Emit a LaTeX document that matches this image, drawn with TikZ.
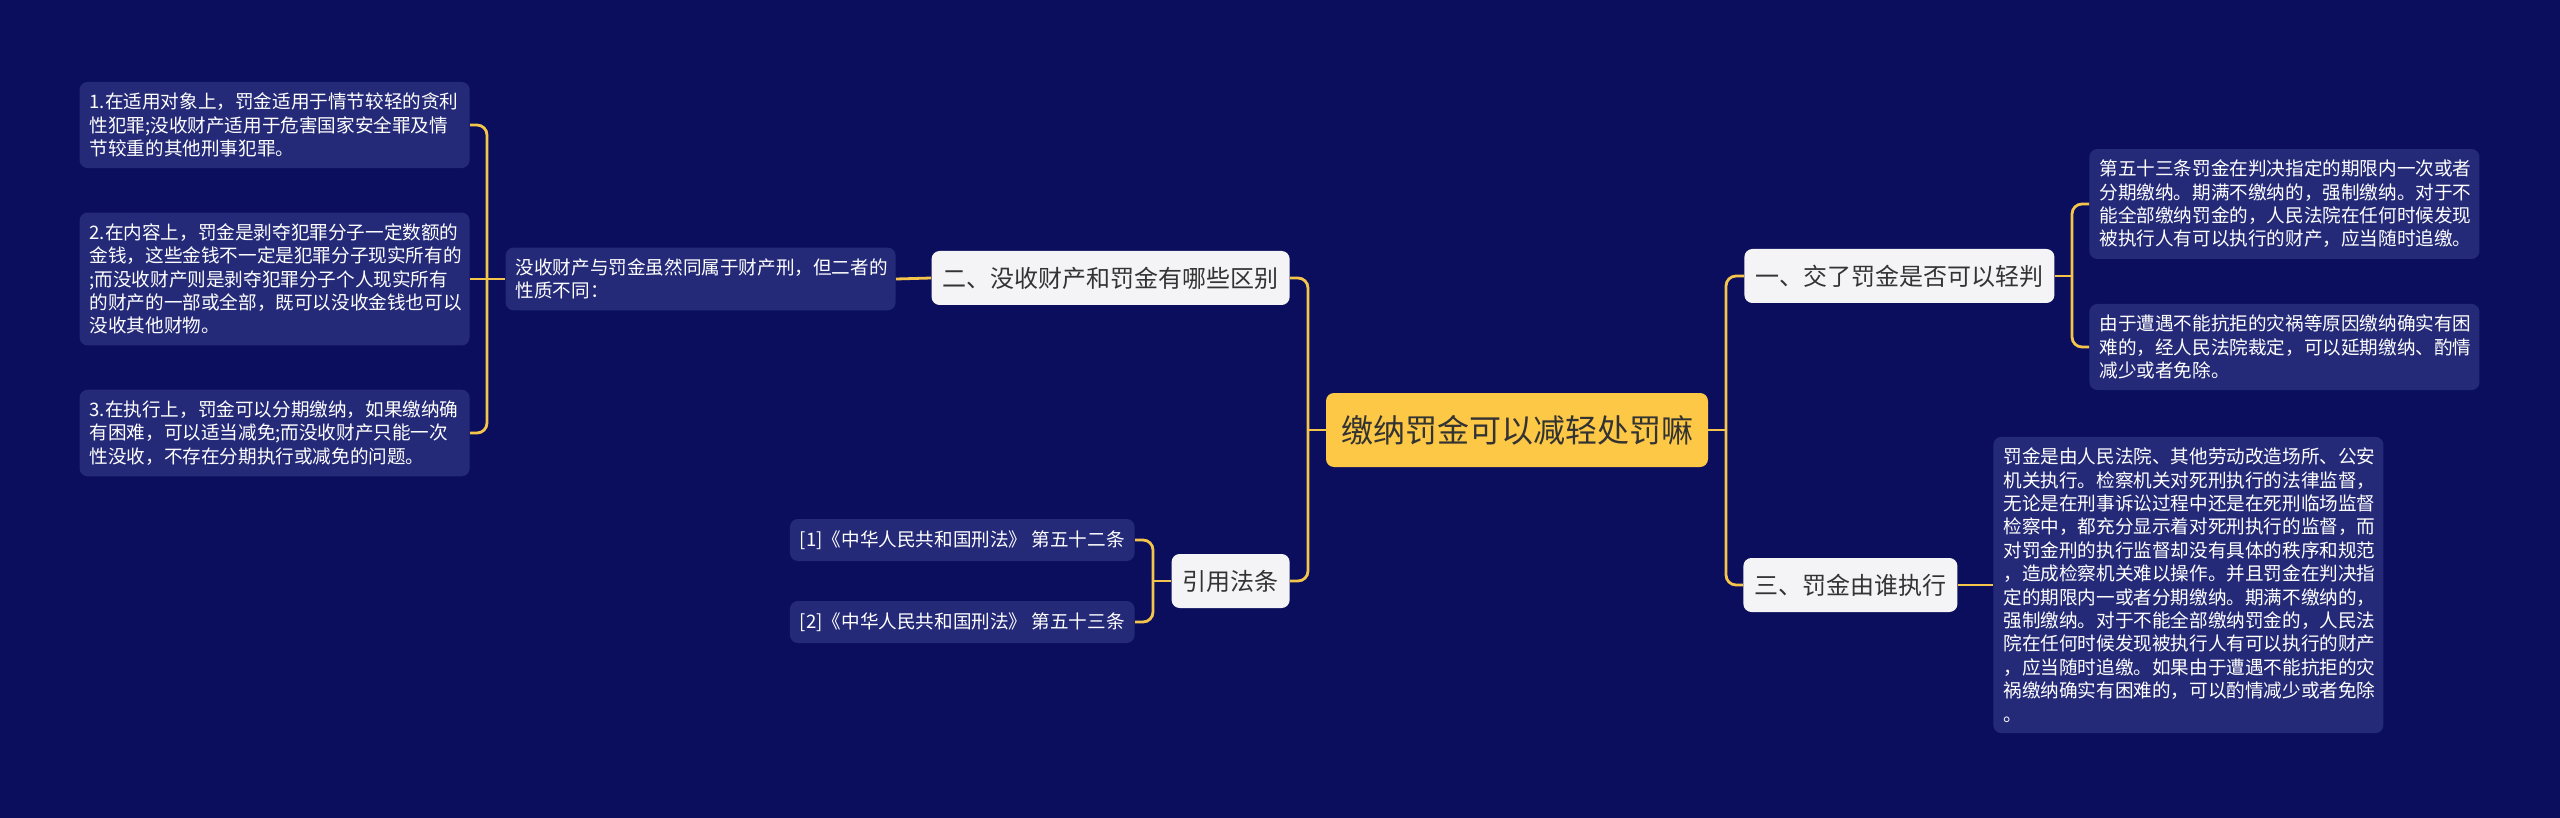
\documentclass[tikz,border=0pt]{standalone}
\usepackage{fontspec}
\setmainfont{Noto Sans CJK SC}
\usepackage{tikz}
\usetikzlibrary{positioning}

\definecolor{navybg}{HTML}{0B0E5C}
\definecolor{leaffill}{HTML}{252A78}
\definecolor{rootfill}{HTML}{FDC845}
\definecolor{linkcol}{HTML}{F4C54A}
\definecolor{branchfill}{HTML}{F4F4F6}
\definecolor{darktext}{HTML}{333333}

\begin{document}
\begin{tikzpicture}[
    x=0.5pt, y=-0.5pt,
    root/.style={rectangle, rounded corners=4pt, fill=rootfill, text=darktext, minimum width=191pt, minimum height=37pt, font=\fontsize{16pt}{19pt}\selectfont},
    branch/.style={rectangle, rounded corners=4pt, fill=branchfill, text=darktext, inner xsep=5.5pt, minimum height=27pt, font=\fontsize{12pt}{14pt}\selectfont},
    leaf/.style={rectangle, rounded corners=4pt, fill=leaffill, text=white, inner xsep=5pt, inner ysep=5.5pt, text width=185pt, align=left, font=\fontsize{9.3pt}{11.7pt}\selectfont},
    ref/.style={rectangle, rounded corners=4pt, fill=leaffill, text=white, inner xsep=5pt, minimum height=21pt, font=\fontsize{9.3pt}{11.7pt}\selectfont},
    link/.style={draw=linkcol, line width=1.4pt, rounded corners=5pt}
]
    \fill[navybg] (0,0) rectangle (2560,818);
    \useasboundingbox (0,0) rectangle (2560,818);

    \node[root] (root) at (1517,430) {缴纳罚金可以减轻处罚嘛};

    \node[branch, anchor=east] (diff) at (1290,278) {二、没收财产和罚金有哪些区别};
    \node[branch, anchor=east] (law) at (1290,581) {引用法条};
    \node[branch, anchor=west] (light) at (1744,276) {一、交了罚金是否可以轻判};
    \node[branch, anchor=west] (who) at (1743,585) {三、罚金由谁执行};

    \node[leaf, anchor=east] (nature) at (896,279) {没收财产与罚金虽然同属于财产刑，但二者的\\性质不同：};
    \node[leaf, anchor=east] (obj) at (470,125) {1.在适用对象上，罚金适用于情节较轻的贪利\\性犯罪;没收财产适用于危害国家安全罪及情\\节较重的其他刑事犯罪。};
    \node[leaf, anchor=east] (content) at (470,279) {2.在内容上，罚金是剥夺犯罪分子一定数额的\\金钱，这些金钱不一定是犯罪分子现实所有的\\;而没收财产则是剥夺犯罪分子个人现实所有\\的财产的一部或全部，既可以没收金钱也可以\\没收其他财物。};
    \node[leaf, anchor=east] (exec) at (470,433) {3.在执行上，罚金可以分期缴纳，如果缴纳确\\有困难，可以适当减免;而没收财产只能一次\\性没收，不存在分期执行或减免的问题。};

    \node[ref, anchor=east] (art52) at (1135,540) {[1]《中华人民共和国刑法》 第五十二条};
    \node[ref, anchor=east] (art53) at (1135,622) {[2]《中华人民共和国刑法》 第五十三条};

    \node[leaf, anchor=west] (term) at (2089,204) {第五十三条罚金在判决指定的期限内一次或者\\分期缴纳。期满不缴纳的，强制缴纳。对于不\\能全部缴纳罚金的，人民法院在任何时候发现\\被执行人有可以执行的财产，应当随时追缴。};
    \node[leaf, anchor=west] (relief) at (2089,347) {由于遭遇不能抗拒的灾祸等原因缴纳确实有困\\难的，经人民法院裁定，可以延期缴纳、酌情\\减少或者免除。};
    \node[leaf, anchor=west] (organ) at (1993,585) {罚金是由人民法院、其他劳动改造场所、公安\\机关执行。检察机关对死刑执行的法律监督，\\无论是在刑事诉讼过程中还是在死刑临场监督\\检察中，都充分显示着对死刑执行的监督，而\\对罚金刑的执行监督却没有具体的秩序和规范\\，造成检察机关难以操作。并且罚金在判决指\\定的期限内一或者分期缴纳。期满不缴纳的，\\强制缴纳。对于不能全部缴纳罚金的，人民法\\院在任何时候发现被执行人有可以执行的财产\\，应当随时追缴。如果由于遭遇不能抗拒的灾\\祸缴纳确实有困难的，可以酌情减少或者免除\\。};

    \coordinate (jleft) at (1308,430);
    \coordinate (jright) at (1726,430);
    \coordinate (jdiff) at (487,279);
    \coordinate (jlaw) at (1153,581);
    \coordinate (jlight) at (2072,276);

    \draw[link] (root.west) -- (jleft);
    \draw[link] (jleft) |- (diff.east);
    \draw[link] (jleft) |- (law.east);
    \draw[link] (root.east) -- (jright);
    \draw[link] (jright) |- (light.west);
    \draw[link] (jright) |- (who.west);

    \draw[link] (diff.west) -- (nature.east);
    \draw[link] (nature.west) -- (jdiff);
    \draw[link] (jdiff) |- (obj.east);
    \draw[link] (jdiff) -- (content.east);
    \draw[link] (jdiff) |- (exec.east);

    \draw[link] (law.west) -- (jlaw);
    \draw[link] (jlaw) |- (art52.east);
    \draw[link] (jlaw) |- (art53.east);

    \draw[link] (light.east) -- (jlight);
    \draw[link] (jlight) |- (term.west);
    \draw[link] (jlight) |- (relief.west);
    \draw[link] (who.east) -- (organ.west);
\end{tikzpicture}
\end{document}
